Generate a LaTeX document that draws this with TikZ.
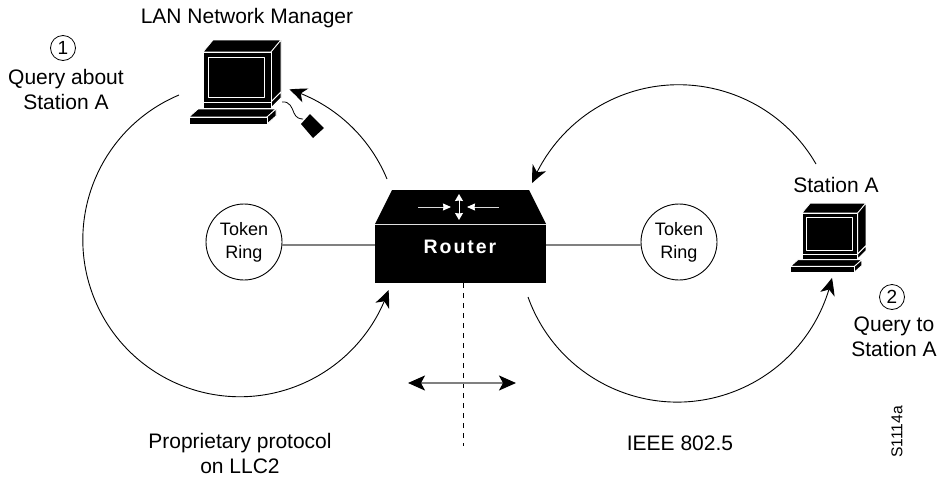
\documentclass[tikz,border=0pt]{standalone}
\usepackage{fontspec}
\setmainfont{Liberation Sans}
\newfontfamily\routerfont[LetterSpace=10,BoldFont={Liberation Sans Bold}]{Liberation Sans}
\usetikzlibrary{arrows.meta,bending,calc}
\newcommand{\mainsz}{\fontsize{21}{25.5}\selectfont}
\newcommand{\ringsz}{\fontsize{18}{23}\selectfont}
\newcommand{\drawcomputer}{%
  \begin{scope}[draw=white,fill=black,line width=0.8pt,line join=round]
    \filldraw (203,52) -- (213,40) -- (281,40) -- (271,52) -- cycle;
    \filldraw (271,52) -- (281,40) -- (281,92) -- (271,102) -- cycle;
    \filldraw (271,102) -- (281,92) -- (281,98) -- (271,108) -- cycle;
    \filldraw (203,52) rectangle (271,102);
    \filldraw (203,102) rectangle (271,108);
    \draw (208,57) rectangle (264,97);
    \filldraw (198,109) -- (276,109) -- (267,117) -- (189,117) -- cycle;
    \filldraw (276,109) -- (276,116) -- (267,124) -- (267,117) -- cycle;
    \filldraw (189,117) rectangle (267,124);
  \end{scope}}
\tikzset{
  txt/.style={align=center,inner sep=0pt,font=\mainsz,text=black},
  ringnode/.style={circle,draw=black,line width=0.9pt,minimum size=76pt,inner sep=0pt,align=center,font=\ringsz,fill=white},
  numnode/.style={circle,draw=black,line width=0.8pt,minimum size=25pt,inner sep=0pt,font=\fontsize{19}{19}\selectfont},
  flow/.style={line width=0.9pt,black,-{Stealth[length=17pt,width=15pt,inset=5pt,bend]}},
  link/.style={line width=1.8pt,black!50},
  inner/.style={line width=0.9pt,black!15,-{Stealth[length=8pt,width=7pt,inset=0.5pt,fill=white,color=white]}},
  innerv/.style={line width=0.9pt,white,{Stealth[length=7pt,width=8pt,inset=0.5pt]}-{Stealth[length=7pt,width=8pt,inset=0.5pt]}},
}
\begin{document}
\begin{tikzpicture}[x=1pt,y=-1pt]
\useasboundingbox (0,0) rectangle (938,477);
% computers
\drawcomputer
\begin{scope}[shift={(635.5,170.4)},scale=0.82]
  \drawcomputer
\end{scope}
% mouse and cable
\fill[black] (310,114) -- (324,128) -- (313,138) -- (301,124) -- cycle;
\draw[line width=0.8pt,black] (282,102) .. controls (290,101) and (292,108) .. (294,113) .. controls (296,118) and (300,119) .. (303,119);
% router
\node[fill=black,minimum width=171pt,minimum height=58pt,inner sep=0pt] (router) at (460.5,254) {};
\fill[black] (375,224) -- (392,190) -- (529,190) -- (546,224) -- cycle;
\node[inner sep=0pt,text=white,font=\routerfont\bfseries\fontsize{19.5}{20}\selectfont] (routerlabel) at (460,247) {Router};
\coordinate (ia1) at (418,207); \coordinate (ia2) at (451,207);
\coordinate (ib1) at (499,207); \coordinate (ib2) at (467,207);
\coordinate (ic1) at (459,194); \coordinate (ic2) at (459,220);
\draw[inner] (ia1) -- (ia2);
\draw[inner] (ib1) -- (ib2);
\draw[innerv] (ic1) -- (ic2);
% rings
\node[ringnode] (ringL) at (244,242) {Token\\Ring};
\node[ringnode] (ringR) at (679,242) {Token\\Ring};
\draw[link] (ringL.-4.5) -- (ringL.-4.5 -| router.west);
\draw[link] (ringR.184.5) -- (ringR.184.5 -| router.east);
% flow arcs
\coordinate (lu) at (387,179);
\coordinate (ll) at (179,95);
\coordinate (ru) at (816,164);
\coordinate (rl) at (528,297);
\draw[flow] (lu) arc[start angle=-22.5,end angle=-72.4,radius=157];
\draw[flow] (ll) arc[start angle=-112.8,end angle=-341.3,radius=157];
\draw[flow] (ru) arc[start angle=-30,end angle=-157.7,radius=158.5];
\draw[flow] (rl) arc[start angle=-199.7,end angle=-347.5,radius=158.5];
% dashed line and double arrow
\coordinate (d2) at (463,446);
\draw[line width=0.9pt,black,dash pattern=on 5pt off 5pt] (d2 |- router.south) -- (d2);
\coordinate (h1) at (408,383); \coordinate (h2) at (516,383);
\draw[link,{Stealth[length=17pt,width=15pt,inset=4pt,black]}-{Stealth[length=17pt,width=15pt,inset=4pt,black]}] (h1) -- (h2);
% texts
\node[txt] (lanmgr) at (247,18) {LAN Network Manager};
\node[numnode] (n1) at (63,48) {1};
\node[txt] (q1) at (66,89.5) {Query about\\Station A};
\node[txt] (sta) at (836,185) {Station A};
\node[numnode] (n2) at (892,297) {2};
\node[txt] (q2) at (894,337) {Query to\\Station A};
\node[txt] (prop) at (240,453.5) {Proprietary protocol\\on LLC2};
\node[txt] (ieee) at (680,443) {IEEE 802.5};
\node[inner sep=0pt,rotate=90,font=\fontsize{15.7}{16}\selectfont] (tag) at (897,432) {S1114a};
\end{tikzpicture}
\end{document}
